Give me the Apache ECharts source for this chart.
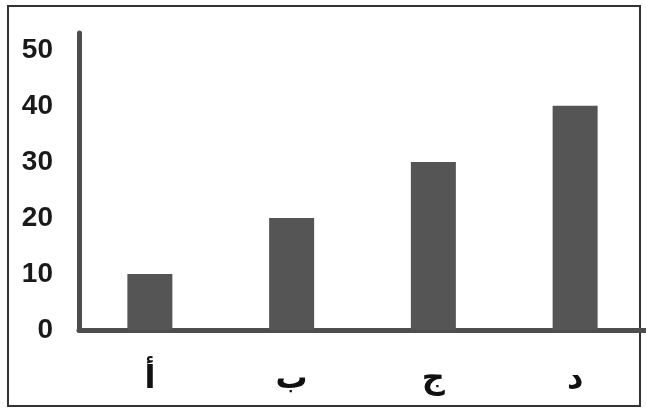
<!DOCTYPE html>
<html>
<head>
<meta charset="utf-8">
<script src="https://cdn.jsdelivr.net/npm/echarts@6/dist/echarts.min.js"></script>
<style>
  html, body { margin: 0; padding: 0; background: #fff; }
  #chart { width: 646px; height: 412px; }
</style>
</head>
<body>
<div id="chart"></div>
<script>
// data
var categories = ["أ", "ب", "ج", "د"];
var values = [10, 20, 30, 40];
var yTicks = [0, 10, 20, 30, 40, 50];

var chart = echarts.init(document.getElementById("chart"), null, { renderer: "canvas" });

chart.setOption({
  backgroundColor: "#fff",
  animation: false,
  grid: {
    left: 79,
    right: -2,
    top: 33,
    bottom: 82,
  },
  graphic: [
    {
      // the outer frame around the figure
      type: "rect",
      shape: { x: 8, y: 6, width: 632, height: 400 },
      style: { fill: "none", stroke: "#333", lineWidth: 2 },
    },
  ],
  xAxis: {
    type: "category",
    data: categories,
    axisLine: {
      show: true,
      lineStyle: { color: "#4d4d4d", width: 5, cap: "round" },
    },
    axisTick: { show: false },
    axisLabel: {
      margin: 34,
      color: "#111",
      fontFamily: "DejaVu Sans",
      fontWeight: "bold",
      fontSize: 32,
    },
  },
  yAxis: {
    type: "value",
    min: 0,
    max: 53,
    interval: 10,
    axisLine: {
      show: true,
      lineStyle: { color: "#4d4d4d", width: 5 },
    },
    axisTick: { show: false },
    splitLine: { show: false },
    axisLabel: {
      margin: 26,
      color: "#1a1a1a",
      fontFamily: "Liberation Sans",
      fontWeight: "bold",
      fontSize: 28,
      // only the real ticks, not the stretched top of the axis
      formatter: function (v) {
        return yTicks.indexOf(v) >= 0 ? String(v) : "";
      },
    },
  },
  series: [
    {
      type: "bar",
      data: values,
      barWidth: 45,
      itemStyle: { color: "#555" },
    },
  ],
});
</script>
</body>
</html>
